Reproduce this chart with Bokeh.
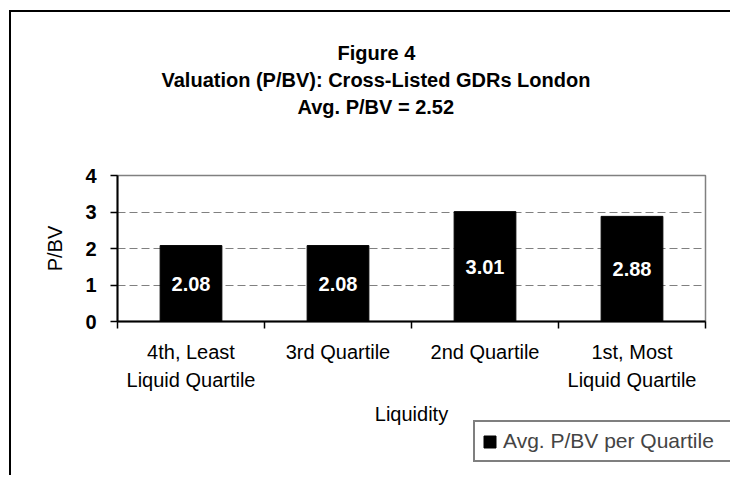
from bokeh.plotting import figure
from bokeh.models import (Range1d, FixedTicker, Legend, LegendItem, Title,
                          ColumnDataSource)
from bokeh.embed import file_html
from bokeh.resources import INLINE
from bokeh.core.properties import value

# ---- data ----
categories = ["4th, Least\nLiquid Quartile", "3rd Quartile", "2nd Quartile",
              "1st, Most\nLiquid Quartile"]
pbv_values = [2.08, 2.08, 3.01, 2.88]
y_ticks = [0, 1, 2, 3, 4]
title_lines = ["Figure 4", "Valuation (P/BV): Cross-Listed GDRs London",
               "Avg. P/BV = 2.52"]
series_name = "Avg. P/BV per Quartile"
x_axis_title = "Liquidity"
y_axis_title = "P/BV"

FONT = "Liberation Sans"

n = len(categories)
xs = [i + 0.5 for i in range(n)]
src = ColumnDataSource(dict(
    x=xs,
    top=pbv_values,
    mid=[v / 2 for v in pbv_values],
    lbl=[f"{v:.2f}" for v in pbv_values],
))

p = figure(frame_width=588, frame_height=146,
           output_backend="svg", toolbar_location=None,
           x_range=Range1d(0, n), y_range=Range1d(y_ticks[0], y_ticks[-1]),
           min_border_left=106, min_border_right=25,
           min_border_top=163, min_border_bottom=101,
           x_axis_label=x_axis_title, y_axis_label=y_axis_title)
p.styles = {"border-left": "2px solid black", "border-top": "2px solid black",
            "margin-left": "9px", "margin-top": "10px",
            "box-sizing": "content-box", "overflow": "visible"}
p.background_fill_color = "white"
p.border_fill_color = "white"
p.outline_line_color = "#808080"
p.outline_line_width = 1.5

# x axis: labels at category centres, tick marks at boundaries
xa = p.xaxis[0]
xa.ticker = FixedTicker(ticks=xs, minor_ticks=list(range(n + 1)))
xa.major_label_overrides = {x: c for x, c in zip(xs, categories)}
xa.major_tick_line_color = None
xa.minor_tick_in = 0
xa.minor_tick_out = 7
xa.minor_tick_line_color = "black"
xa.minor_tick_line_width = 1.5
xa.axis_line_color = "black"
xa.axis_line_width = 2
xa.major_label_text_font = FONT
xa.major_label_text_font_size = "20px"
xa.major_label_text_color = "black"
xa.major_label_text_line_height = 1.3
xa.major_label_standoff = 12
xa.axis_label_text_font = FONT
xa.axis_label_text_font_size = "20px"
xa.axis_label_text_font_style = "normal"
xa.axis_label_text_color = "black"
xa.axis_label_standoff = 9

ya = p.yaxis[0]
ya.ticker = FixedTicker(ticks=y_ticks)
ya.minor_tick_line_color = None
ya.major_tick_in = 0
ya.major_tick_out = 7
ya.major_tick_line_color = "black"
ya.major_tick_line_width = 1.5
ya.axis_line_color = "black"
ya.axis_line_width = 2
ya.major_label_text_font = FONT
ya.major_label_text_font_size = "20px"
ya.major_label_text_font_style = "bold"
ya.major_label_text_color = "black"
ya.major_label_standoff = 14
ya.axis_label_text_font = FONT
ya.axis_label_text_font_size = "20px"
ya.axis_label_text_font_style = "normal"
ya.axis_label_text_color = "black"
ya.axis_label_standoff = 16

p.xgrid.visible = False
p.ygrid.ticker = FixedTicker(ticks=[t for t in y_ticks if y_ticks[0] < t < y_ticks[-1]])
p.ygrid.grid_line_color = "#808080"
p.ygrid.grid_line_width = 1
p.ygrid.grid_line_dash = "8 4"

bars = p.vbar(x="x", top="top", width=0.42, source=src,
              fill_color="black", line_color="black")
p.text(x="x", y="mid", text="lbl", source=src, text_color="white",
       text_font=value(FONT), text_font_style="bold", text_font_size="20px",
       text_align="center", text_baseline="middle")

# titles (stacked above the frame, nearest first)
p.add_layout(Title(text=" ", text_font=FONT, text_font_size="20px",
                   standoff=32), "above")
title_offsets = [220, 44, 180]
for t, off in reversed(list(zip(title_lines, title_offsets))):
    p.add_layout(Title(text=t, align="left", offset=off, standoff=3,
                       text_font=FONT, text_font_size="20px",
                       text_font_style="bold", text_color="black"), "above")

# legend strip below the chart (separate root, so its frame is full width)
p2 = figure(width=719, height=55, output_backend="svg", toolbar_location=None,
            x_range=Range1d(0, n), y_range=Range1d(10, 11),
            x_axis_location=None, y_axis_location=None, min_border=0)
p2.styles = {"border-left": "2px solid black", "margin-left": "9px",
             "margin-top": "-8px",
             "box-sizing": "content-box", "overflow": "visible"}
p2.outline_line_color = None
p2.grid.visible = False
p2.background_fill_alpha = 0
p2.border_fill_alpha = 0
key = p2.vbar(x="x", top="top", width=0.42, source=src,
              fill_color="black", line_color="black")
legend = Legend(items=[LegendItem(label=series_name, renderers=[key])],
                location=(462, 13), border_line_color="black",
                border_line_width=2, padding=7, margin=0, glyph_width=15,
                glyph_height=15, label_standoff=6, label_width=220,
                label_text_font=FONT, label_text_font_size="21px",
                background_fill_color="white", background_fill_alpha=1)
p2.add_layout(legend)

open("out.html", "w").write(file_html([p, p2], INLINE))
